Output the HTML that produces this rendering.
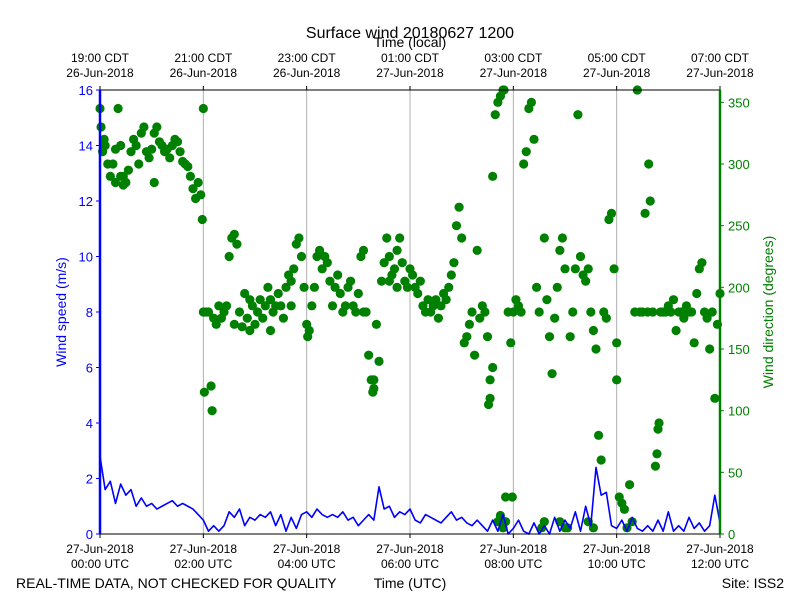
<!DOCTYPE html>
<html><head><meta charset="utf-8"><style>
body{margin:0;background:#fff;width:800px;height:600px;overflow:hidden}
svg{font-family:"Liberation Sans","DejaVu Sans",sans-serif}
</style></head><body>
<svg id="c" width="800" height="600">
<text x="410" y="38" font-size="16" text-anchor="middle">Surface wind 20180627 1200</text>
<text x="410" y="47" font-size="14" text-anchor="middle">Time (local)</text>
<text x="60" y="318" font-size="14" fill="#0000ff" text-anchor="middle" transform="rotate(-90 60 312)">Wind speed (m/s)</text>
<text x="773" y="312" font-size="14" fill="#008000" text-anchor="middle" transform="rotate(-90 773 312)">Wind direction (degrees)</text>
<text x="16" y="588" font-size="14">REAL-TIME DATA, NOT CHECKED FOR QUALITY</text>
<text x="410" y="588" font-size="14" text-anchor="middle">Time (UTC)</text>
<text x="784" y="588" font-size="14" text-anchor="end">Site: ISS2</text>
<g id="grid"></g><g id="dots"></g><g id="line"></g><g id="axes"></g>
</svg>
<script>
const speedHours=[0,0.1,0.2,0.3,0.4,0.5,0.6,0.7,0.8,0.9,1,1.1,1.2,1.3,1.4,1.5,1.6,1.7,1.8,1.9,2,2.1,2.2,2.3,2.4,2.5,2.6,2.7,2.8,2.9,3,3.1,3.2,3.3,3.4,3.5,3.6,3.7,3.8,3.9,4,4.1,4.2,4.3,4.4,4.5,4.6,4.7,4.8,4.9,5,5.1,5.2,5.3,5.4,5.5,5.6,5.7,5.8,5.9,6,6.1,6.2,6.3,6.4,6.5,6.6,6.7,6.8,6.9,7,7.1,7.2,7.3,7.4,7.5,7.6,7.7,7.8,7.9,8,8.1,8.2,8.3,8.4,8.5,8.6,8.7,8.8,8.9,9,9.1,9.2,9.3,9.4,9.5,9.6,9.7,9.8,9.9,10,10.1,10.2,10.3,10.4,10.5,10.6,10.7,10.8,10.9,11,11.1,11.2,11.3,11.4,11.5,11.6,11.7,11.8,11.9,12];
const speedValues=[2.8,1.6,1.9,1.1,1.8,1.4,1.6,1.0,1.3,1.0,1.1,0.9,1.0,1.1,1.2,1.0,1.1,1.0,0.9,0.7,0.5,0.1,0.3,0.1,0.3,0.8,0.6,0.9,0.3,0.6,0.5,0.7,0.6,0.8,0.3,0.7,0.1,0.6,0.2,0.7,0.8,0.6,0.9,0.7,0.6,0.7,0.6,0.8,0.5,0.6,0.3,0.5,0.7,0.5,1.7,0.9,1.0,0.6,0.8,0.7,0.9,0.5,0.4,0.7,0.6,0.5,0.4,0.6,0.8,0.5,0.6,0.4,0.3,0.5,0.3,0.1,0.5,0.1,0.7,0.0,0.2,0.5,0.1,0.0,0.4,0.0,0.3,0.0,0.6,0.1,0.5,0.2,0.8,0.1,1.0,0.3,2.4,1.4,1.5,0.3,0.2,0.5,0.1,0.6,0.2,0.1,0.3,0.1,0.5,0.1,0.8,0.1,0.3,0.1,0.6,0.2,0.4,0.1,0.3,1.4,0.4];
const dirHours=[0,0.02,0.05,0.08,0.1,0.15,0.2,0.25,0.3,0.35,0.4,0.45,0.5,0.55,0.6,0.65,0.7,0.75,0.8,0.85,0.9,0.95,1,1.05,1.1,1.15,1.2,1.25,1.3,1.35,1.4,1.45,1.5,1.55,1.6,1.65,1.7,1.75,1.8,1.85,1.9,1.95,1.98,0.3,0.4,0.45,1.05,
2,2,2.02,2.05,2.1,2.15,2.17,2.2,2.25,2.3,2.35,2.4,2.45,2.5,2.55,2.6,2.65,2.7,2.75,2.8,2.85,2.9,2.95,3,3.05,3.1,3.15,3.2,3.25,3.3,3.35,3.4,3.45,3.5,3.55,3.6,3.65,3.7,3.75,3.8,3.85,3.9,3.95,4,4.02,4.05,2.6,2.9,3.3,3.7,
4.1,4.15,4.2,4.25,4.3,4.35,4.4,4.45,4.5,4.55,4.6,4.65,4.7,4.75,4.8,4.85,4.9,4.95,5,5.05,5.1,5.15,5.2,5.25,5.28,5.3,5.35,5.4,5.45,5.5,5.55,5.6,5.65,5.7,5.75,5.8,5.85,5.9,5.95,6,5.1,5.3,5.6,5.75,
6.05,6.1,6.15,6.2,6.25,6.3,6.35,6.4,6.45,6.5,6.55,6.6,6.65,6.7,6.75,6.8,6.85,6.9,6.95,7,7.05,7.1,7.15,7.2,7.25,7.3,7.35,7.4,7.45,7.5,7.52,7.55,7.6,7.65,7.7,7.75,7.8,7.82,7.85,7.9,7.95,7.98,7.7,7.75,7.8,7.85,7.6,7.55,
8,8.05,8.1,8.15,8.2,8.25,8.3,8.35,8.4,8.45,8.5,8.55,8.6,8.65,8.7,8.75,8.8,8.85,8.9,8.95,9,9.05,9.1,9.15,9.2,9.25,9.3,9.35,9.4,9.45,9.5,9.55,9.6,9.65,9.7,9.75,9.8,9.85,9.9,9.95,10,8.6,8.9,9,9.45,9.55,
10.0,10.05,10.1,10.15,10.2,10.25,10.3,10.35,10.4,10.45,10.5,10.55,10.6,10.62,10.65,10.7,10.75,10.78,10.8,10.82,10.85,10.9,11,11.1,11.15,11.2,11.3,11.35,11.4,11.5,11.55,11.6,11.65,11.7,11.75,11.8,11.85,11.9,11.95,12,10.95,11.05,11.25,11.45];
const dirDegrees=[345,330,310,320,315,300,290,300,312,345,315,290,285,295,310,320,315,300,325,330,310,305,312,325,330,318,315,310,312,305,315,320,318,310,302,300,298,290,280,272,285,275,255,285,290,283,285,
345,180,115,180,180,120,100,175,170,185,175,180,185,225,240,243,235,180,168,195,175,190,185,170,180,190,175,185,200,190,180,185,195,185,175,200,210,205,215,235,240,225,200,170,160,165,170,165,165,185,
185,200,225,230,215,225,220,205,185,200,210,195,180,185,200,205,185,180,195,225,230,180,145,125,115,118,170,140,205,220,240,225,210,215,230,240,220,205,200,215,180,125,205,200,
210,200,195,205,185,180,190,180,185,190,175,185,195,190,200,210,220,250,265,240,155,160,170,180,145,230,175,185,180,160,105,110,290,340,350,355,360,360,30,180,155,30,10,15,5,10,135,125,
180,190,185,180,300,310,345,350,320,200,180,5,240,190,160,130,175,200,230,240,215,5,160,180,215,340,225,210,205,215,180,165,150,80,60,180,175,255,260,215,125,10,10,5,10,5,
155,30,25,20,5,40,10,180,360,180,180,260,180,300,270,180,55,65,85,90,180,180,185,190,165,180,175,185,180,155,195,215,220,180,175,150,180,110,170,195,180,180,180,180];
const bottomTicks=["00:00","02:00","04:00","06:00","08:00","10:00","12:00"];
const topTicks=["19:00 CDT","21:00 CDT","23:00 CDT","01:00 CDT","03:00 CDT","05:00 CDT","07:00 CDT"];
const topDates=["26-Jun-2018","26-Jun-2018","26-Jun-2018","27-Jun-2018","27-Jun-2018","27-Jun-2018","27-Jun-2018"];
const speedTicks=[0,2,4,6,8,10,12,14,16];
const dirTicks=[0,50,100,150,200,250,300,350];

const L=100,R=720,T=90,B=534,NS="http://www.w3.org/2000/svg";
const x=h=>L+(R-L)*h/12, yS=v=>B-(B-T)*v/16, yD=d=>B-(B-T)*d/360;
function mk(p,tag,a,txt){const e=document.createElementNS(NS,tag);for(const k in a)e.setAttribute(k,a[k]);if(txt!=null)e.textContent=txt;document.getElementById(p).appendChild(e);return e;}
bottomTicks.forEach((t,i)=>{const h=i*2,xx=x(h);
 if(i>0&&i<6){const g=mk('grid','line',{x1:xx,x2:xx,y1:T,y2:B,stroke:'#b0b0b0','stroke-width':1});
 
 }
 mk('axes','line',{x1:xx,x2:xx,y1:B,y2:B+4,stroke:'#000'});
 mk('axes','line',{x1:xx,x2:xx,y1:T,y2:T-4,stroke:'#000'});
 const a=mk('axes','text',{x:xx,y:553,'font-size':12,'text-anchor':'middle'},'27-Jun-2018');
 
 
 const b=mk('axes','text',{x:xx,y:568,'font-size':12,'text-anchor':'middle'},t+' UTC');
 
 
 const c=mk('axes','text',{x:xx,y:62,'font-size':12,'text-anchor':'middle'},topTicks[i]);
 
 
 const d=mk('axes','text',{x:xx,y:77,'font-size':12,'text-anchor':'middle'},topDates[i]);
 
 
});
dirHours.forEach((h,i)=>{const c=mk('dots','circle',{cx:x(h),cy:yD(dirDegrees[i]),r:4.6,fill:'#008000'});
 
 });
const pl=mk('line','polyline',{points:speedHours.map((h,i)=>x(h)+','+yS(speedValues[i])).join(' '),fill:'none',stroke:'#0000ff','stroke-width':1.6,'stroke-linejoin':'round'});


mk('axes','line',{x1:L,x2:R,y1:T,y2:T,stroke:'#000'});
mk('axes','line',{x1:L,x2:R,y1:B,y2:B,stroke:'#000'});
mk('axes','line',{x1:L,x2:L,y1:T,y2:B,stroke:'#0000ff','stroke-width':2.5});
mk('axes','line',{x1:R,x2:R,y1:T,y2:B,stroke:'#008000','stroke-width':2.5});
speedTicks.forEach(v=>{const yy=yS(v);mk('axes','line',{x1:L-4,x2:L,y1:yy,y2:yy,stroke:'#0000ff'});
 const t=mk('axes','text',{x:L-7,y:yy+5,'font-size':13,fill:'#0000ff','text-anchor':'end'},v);
 
 });
dirTicks.forEach(v=>{const yy=yD(v);mk('axes','line',{x1:R,x2:R+4,y1:yy,y2:yy,stroke:'#008000'});
 const t=mk('axes','text',{x:R+8,y:yy+5,'font-size':13,fill:'#008000'},v);
 
 });
</script>
</body></html>
